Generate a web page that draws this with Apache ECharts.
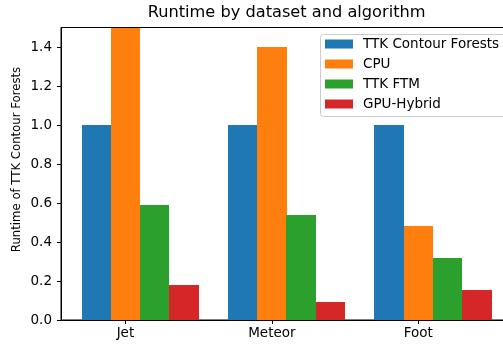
<!DOCTYPE html>
<html>
<head>
<meta charset="utf-8">
<script src="https://cdn.jsdelivr.net/npm/echarts@6/dist/echarts.min.js"></script>
<style>
html,body{margin:0;padding:0;background:#fff;overflow:hidden;}
#chart{width:503px;height:347px;}
</style>
</head>
<body>
<div id="chart"></div>
<script>
var categories = ['Jet', 'Meteor', 'Foot'];
var seriesNames = ['TTK Contour Forests', 'CPU', 'TTK FTM', 'GPU-Hybrid'];
var ttkContourForests = [1.0, 1.0, 1.0];
var cpu = [1.5, 1.40, 0.48];
var ttkFtm = [0.59, 0.54, 0.32];
var gpuHybrid = [0.18, 0.092, 0.155];
var yTickValues = [0, 0.2, 0.4, 0.6, 0.8, 1.0, 1.2, 1.4];
var titleText = 'Runtime by dataset and algorithm';
var yLabelText = 'Runtime of TTK Contour Forests';

var colors = ['#1f77b4', '#ff7f0e', '#2ca02c', '#d62728'];
var allValues = [ttkContourForests, cpu, ttkFtm, gpuHybrid];
var barWidth = 0.2;
var offsets = [-0.2, 0, 0.2, 0.4];
var FONT = 'DejaVu Sans';

var chart = echarts.init(document.getElementById('chart'), null, {renderer: 'canvas'});

var series = seriesNames.map(function (name, s) {
  return {
    name: name,
    type: 'custom',
    clip: true,
    itemStyle: {color: colors[s]},
    encode: {x: 0, y: 1},
    data: allValues[s].map(function (v, i) { return [i + offsets[s], v]; }),
    renderItem: function (params, api) {
      var x = api.value(0), y = api.value(1);
      var p0 = api.coord([x - barWidth / 2, y]);
      var p1 = api.coord([x + barWidth / 2, 0]);
      var x0 = Math.round(p0[0]), x1 = Math.round(p1[0]);
      var y0 = Math.round(p0[1]), y1 = Math.round(p1[1]);
      return {
        type: 'rect',
        shape: {x: x0, y: y0, width: x1 - x0, height: y1 - y0},
        style: {fill: colors[s]}
      };
    }
  };
});

chart.setOption({
  animation: false,
  backgroundColor: '#fff',
  title: {
    text: titleText,
    left: 281.6,
    top: 0,
    textAlign: 'center',
    textStyle: {fontFamily: FONT, fontSize: 16.2, fontWeight: 'normal', color: '#000'}
  },
  legend: {
    orient: 'vertical',
    left: 320,
    top: 34,
    z: 10,
    icon: 'rect',
    itemWidth: 28,
    itemHeight: 9,
    itemGap: 4,
    padding: [2, 0, 5, 5],
    data: seriesNames,
    textStyle: {fontFamily: FONT, fontSize: 13.5, color: '#000', lineHeight: 16, padding: [0, 0, 0, 5]}
  },
  grid: {
    left: 61, top: 27.5, width: 451, height: 292.5,
    show: true, borderColor: '#000', borderWidth: 1,
    containLabel: false,
    outerBoundsMode: 'none'
  },
  xAxis: {
    type: 'value',
    min: -0.44,
    max: 2.64,
    splitLine: {show: false},
    axisLine: {show: true, lineStyle: {color: '#000', width: 1}},
    axisTick: {show: true, customValues: [0, 1, 2], length: 4, lineStyle: {color: '#000'}},
    axisLabel: {
      customValues: [0, 1, 2],
      margin: 6,
      fontFamily: FONT, fontSize: 13.5, color: '#000',
      formatter: function (v) { return categories[Math.round(v)]; }
    }
  },
  yAxis: {
    type: 'value',
    min: 0,
    max: 1.5,
    splitLine: {show: false},
    axisLine: {show: true, onZero: false, lineStyle: {color: '#000', width: 1}},
    axisTick: {show: true, customValues: yTickValues, length: 4, lineStyle: {color: '#000'}},
    axisLabel: {
      customValues: yTickValues,
      margin: 9,
      fontFamily: FONT, fontSize: 13.5, color: '#000',
      formatter: function (v) { return v.toFixed(1); }
    }
  },
  graphic: [{
    type: 'rect',
    z: 5,
    shape: {x: 320.5, y: 34.5, width: 200, height: 82, r: 3},
    style: {fill: 'rgba(255,255,255,0.8)', stroke: '#cccccc', lineWidth: 1}
  }, {
    type: 'text',
    x: 17,
    y: 159.5,
    rotation: Math.PI / 2,
    style: {
      text: yLabelText,
      fontFamily: FONT, fontSize: 11.7, fill: '#000',
      align: 'center', verticalAlign: 'middle'
    }
  }],
  series: series
});
</script>
</body>
</html>
